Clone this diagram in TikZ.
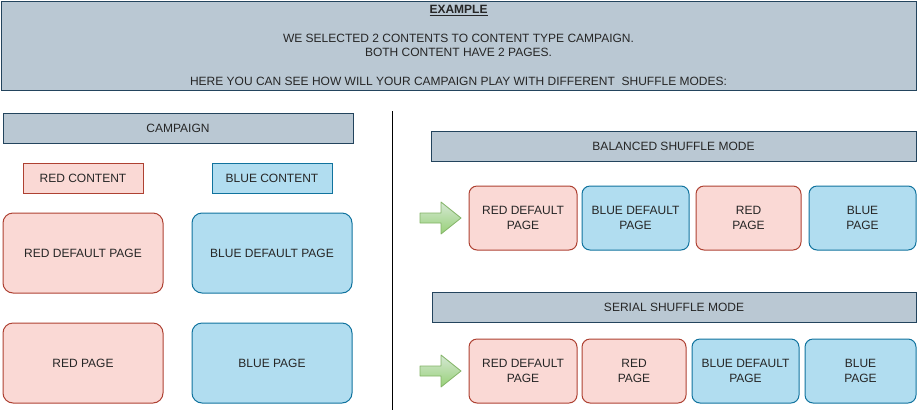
\documentclass[tikz,border=0pt]{standalone}
\usepackage{fontspec}
\setmainfont{Liberation Sans}
\usetikzlibrary{positioning}
\definecolor{headfill}{HTML}{BAC8D3}
\definecolor{headline}{HTML}{23445D}
\definecolor{redfill}{HTML}{FAD9D5}
\definecolor{redline}{HTML}{AE4132}
\definecolor{bluefill}{HTML}{B1DDF0}
\definecolor{blueline}{HTML}{10739E}
\definecolor{arrowtop}{HTML}{D5E8D4}
\definecolor{arrowbot}{HTML}{97D077}
\definecolor{arrowline}{HTML}{82B366}
\definecolor{txt}{HTML}{262626}
\begin{document}
\begin{tikzpicture}[x=1pt,y=-1pt,line width=1pt,
	font=\fontsize{12}{14.4}\selectfont,text=txt,
	headbox/.style={draw=headline,fill=headfill,minimum height=30pt,inner sep=0pt},
	redbox/.style={draw=redline,fill=redfill,inner sep=0pt,align=center},
	bluebox/.style={draw=blueline,fill=bluefill,inner sep=0pt,align=center},
	bigpage/.style={rounded corners=10pt,minimum width=160pt,minimum height=80pt},
	smallpage/.style={rounded corners=8pt,minimum height=64pt},
	greenarrow/.style={draw=arrowline,top color=arrowtop,bottom color=arrowbot,line width=0.8pt,line join=round}]
	\useasboundingbox (0,0) rectangle (917,413);
	% header
	\node[headbox,minimum width=915pt,minimum height=89pt,align=center] (intro) at (458.5,45.5)
		{\underline{\textbf{EXAMPLE}}\\ ~\\ WE SELECTED 2 CONTENTS TO CONTENT TYPE CAMPAIGN.\\ BOTH CONTENT HAVE 2 PAGES.\\ ~\\ HERE YOU CAN SEE HOW WILL YOUR CAMPAIGN PLAY WITH DIFFERENT\ \ SHUFFLE MODES:};
	% left side
	\node[headbox,minimum width=350pt] (campaign) at (178,128) {CAMPAIGN};
	\node[redbox,minimum width=120pt,minimum height=30pt] (redcontent) at (83,178) {RED CONTENT};
	\node[bluebox,minimum width=120pt,minimum height=30pt] (bluecontent) at (272,178) {BLUE CONTENT};
	\node[redbox,bigpage] (reddefault) at (83,253) {RED DEFAULT PAGE};
	\node[bluebox,bigpage] (bluedefault) at (272,253) {BLUE DEFAULT PAGE};
	\node[redbox,bigpage] (redpage) at (83,363) {RED PAGE};
	\node[bluebox,bigpage] (bluepage) at (272,363) {BLUE PAGE};
	% divider
	\coordinate (divtop) at (392,111);
	\coordinate (divbot) at (392,410);
	\draw (divtop) -- (divbot);
	% balanced
	\node[headbox,minimum width=485pt] (balanced) at (673.5,146) {BALANCED SHUFFLE MODE};
	\node[redbox,smallpage,minimum width=108pt] (bal1) at (523,218) {RED DEFAULT\\PAGE};
	\node[bluebox,smallpage,minimum width=107pt] (bal2) at (635.5,218) {BLUE DEFAULT\\PAGE};
	\node[redbox,smallpage,minimum width=105pt] (bal3) at (748.5,218) {RED\\PAGE};
	\node[bluebox,smallpage,minimum width=107pt] (bal4) at (862.5,218) {BLUE\\PAGE};
	% serial
	\node[headbox,minimum width=484pt] (serial) at (674,307) {SERIAL SHUFFLE MODE};
	\node[redbox,smallpage,minimum width=108pt] (ser1) at (523,371) {RED DEFAULT\\PAGE};
	\node[redbox,smallpage,minimum width=104pt] (ser2) at (634,371) {RED\\PAGE};
	\node[bluebox,smallpage,minimum width=107pt] (ser3) at (745.5,371) {BLUE DEFAULT\\PAGE};
	\node[bluebox,smallpage,minimum width=111pt] (ser4) at (860.5,371) {BLUE\\PAGE};
	% arrows
	\foreach \y in {218,371}{
		\path[greenarrow] (420,\y-5) -- (441,\y-5) -- (441,\y-16) -- (461,\y) -- (441,\y+16) -- (441,\y+5) -- (420,\y+5) -- cycle;
	}
\end{tikzpicture}
\end{document}
